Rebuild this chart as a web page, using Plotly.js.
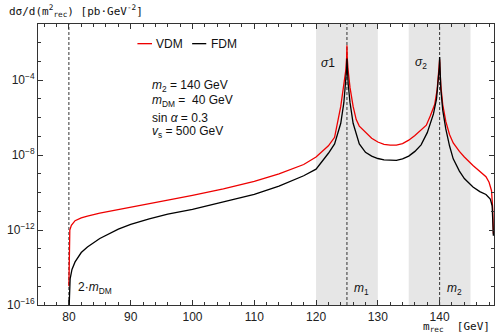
<!DOCTYPE html>
<html>
<head>
<meta charset="utf-8">
<script src="https://cdn.plot.ly/plotly-3.0.1.min.js"></script>
<style>html,body{margin:0;padding:0;background:#fff;}#chart{width:496px;height:335px;}</style>
</head>
<body>
<div id="chart"></div>
<script>
// m_rec values (GeV) and log10 of dσ/d(m²rec) [pb·GeV^-2]
const vdmX = [80.0, 80.02, 80.05, 80.15, 80.4, 81, 82, 83, 85, 90, 96, 100, 105, 110, 114, 118, 120, 122, 123, 124, 124.5, 124.8, 124.95, 125,
  125.05, 125.2, 125.5, 126, 126.5, 127, 128, 129, 130, 131, 132, 133, 134, 135, 136, 137, 137.85, 138.5, 139.2, 139.6, 139.85, 139.95, 140,
  140.05, 140.2, 140.5, 141, 141.6, 142.2, 143.2, 144, 145.4, 146.5, 147.5, 148, 148.4, 148.6, 148.7];
const vdmLog = [-15.0, -13.0, -12.3, -12.0, -11.75, -11.5, -11.35, -11.25, -11.1, -10.8, -10.4, -10.15, -9.8, -9.4, -9.0, -8.5, -8.1, -7.5, -7.05, -5.4, -4.3, -3.5, -2.8, -2.13,
  -2.8, -3.5, -4.4, -5.4, -6.1, -6.45, -6.8, -7.1, -7.3, -7.42, -7.47, -7.47, -7.38, -7.2, -6.95, -6.65, -6.4, -5.9, -5.3, -4.5, -3.6, -3.1, -2.9,
  -3.4, -4.3, -5.3, -6.2, -6.9, -7.35, -7.8, -8.1, -8.55, -8.85, -9.15, -9.45, -9.9, -10.9, -12.2];

const fdmX = [80.0, 80.05, 80.2, 80.5, 81, 82, 83, 85, 88, 90, 93, 96, 100, 105, 110, 114, 118, 120, 122, 123, 124, 124.5, 124.8, 124.95, 125,
  125.05, 125.2, 125.5, 126, 127, 128, 129, 130, 131, 132, 133, 134, 135, 136, 137, 138, 139, 139.5, 139.8, 139.95, 140,
  140.05, 140.2, 140.5, 141, 141.6, 142.2, 143.2, 144, 145.4, 146.5, 147.5, 148.2, 148.5, 148.65, 148.7];
const fdmLog = [-16.5, -15.3, -14.6, -14.1, -13.7, -13.2, -12.9, -12.45, -11.95, -11.7, -11.4, -11.15, -10.9, -10.5, -10.1, -9.65, -9.1, -8.75, -7.9, -7.4, -6.3, -5.2, -4.2, -3.4, -2.84,
  -3.4, -4.2, -5.2, -6.3, -7.4, -7.85, -8.05, -8.18, -8.25, -8.28, -8.28, -8.2, -8.05, -7.8, -7.45, -6.8, -5.8, -5.0, -4.1, -3.3, -2.76,
  -3.5, -4.5, -5.6, -6.6, -7.5, -8.2, -8.85, -9.25, -9.7, -9.95, -10.1, -10.35, -10.7, -11.5, -12.3];

const xTicks = [80, 90, 100, 110, 120, 130, 140];
const yTickVals = [1e-16, 1e-12, 1e-8, 1e-4];
const yTickText = ['10<sup>−16</sup>', '10<sup>−12</sup>', '10<sup>−8</sup>', '10<sup>−4</sup>'];
const yMinorVals = [1e-15,1e-14,1e-13,1e-11,1e-10,1e-9,1e-7,1e-6,1e-5,1e-3,1e-2];
const bands = [[120, 130], [135, 145]];
const markers = [80, 125, 140];

const toVal = a => a.map(v => Math.pow(10, v));

const traces = [
  {x: vdmX, y: toVal(vdmLog), type: 'scatter', mode: 'lines', name: 'VDM', line: {color: '#ee0000', width: 1.3}},
  {x: fdmX, y: toVal(fdmLog), type: 'scatter', mode: 'lines', name: 'FDM', line: {color: '#000000', width: 1.3}}
];

const shapes = [];
bands.forEach(b => shapes.push({type: 'rect', xref: 'x', yref: 'paper', x0: b[0], x1: b[1], y0: 0, y1: 1, fillcolor: '#e6e6e6', line: {width: 0}, layer: 'below'}));
markers.forEach(m => shapes.push({type: 'line', xref: 'x', yref: 'paper', x0: m, x1: m, y0: 0, y1: 1, line: {color: '#333', width: 1, dash: '3px,2px'}, layer: 'below'}));
// legend samples
shapes.push({type: 'line', xref: 'paper', yref: 'paper', x0: 0.218, x1: 0.25, y0: 0.93, y1: 0.93, line: {color: '#ee0000', width: 1.3}});
shapes.push({type: 'line', xref: 'paper', yref: 'paper', x0: 0.338, x1: 0.369, y0: 0.93, y1: 0.93, line: {color: '#000', width: 1.3}});

const txtFont = {family: 'Liberation Sans, Arial, sans-serif', size: 12, color: '#111'};
const monoFont = {family: 'DejaVu Sans Mono, monospace', size: 11, color: '#111'};
const ann = (x, y, text, xanchor, xref, extra) => Object.assign({x, y, xref: xref || 'paper', yref: 'paper', text, showarrow: false, xanchor: xanchor || 'center', yanchor: 'middle', font: txtFont}, extra || {});

const annotations = [
  ann(0.255, 0.93, 'VDM', 'left'),
  ann(0.374, 0.93, 'FDM', 'left'),
  ann(0.246, 0.781, '<i>m</i><sub>2</sub> = 140 GeV', 'left'),
  ann(0.246, 0.726, '<i>m</i><sub>DM</sub> =  40 GeV', 'left'),
  ann(0.246, 0.666, 'sin <i>α</i> = 0.3', 'left'),
  ann(0.246, 0.615, '<i>v</i><sub>s</sub> = 500 GeV', 'left'),
  ann(121.9, 0.86, '<i>σ</i>1', 'center', 'x'),
  ann(137.0, 0.86, '<i>σ</i><sub>2</sub>', 'center', 'x'),
  ann(127.3, 0.058, '<i>m</i><sub>1</sub>', 'center', 'x'),
  ann(142.4, 0.058, '<i>m</i><sub>2</sub>', 'center', 'x'),
  ann(84.2, 0.06, '2·<i>m</i><sub>DM</sub>', 'center', 'x'),
  {x: -0.074, y: 1.0, xref: 'paper', yref: 'paper', yshift: 13, xshift: 3, text: 'dσ/d(m<sup>2</sup><sub>rec</sub>) [pb·GeV<sup>-2</sup>]', showarrow: false, xanchor: 'left', yanchor: 'middle', font: monoFont},
  {x: 1.0, y: 0, xref: 'paper', yref: 'paper', yshift: -22, xshift: -2, text: 'm<sub>rec</sub>  [GeV]', showarrow: false, xanchor: 'right', yanchor: 'middle', font: monoFont}
];

const axisCommon = {showgrid: false, zeroline: false, showline: true, linecolor: '#333', linewidth: 1, ticks: 'inside', tickcolor: '#333', mirror: 'allticks', tickfont: {family: 'Liberation Sans, Arial, sans-serif', size: 12, color: '#222'}};

const layout = {
  width: 496, height: 335,
  margin: {l: 37.5, r: 2, t: 23.5, b: 30},
  paper_bgcolor: '#fff', plot_bgcolor: '#fff',
  showlegend: false,
  xaxis: Object.assign({}, axisCommon, {range: [75, 148.8], tickmode: 'array', tickvals: xTicks, ticklen: 5, ticklabelstandoff: 1,
    minor: {dtick: 2, tick0: 0, ticklen: 3, ticks: 'inside', tickcolor: '#333'}}),
  yaxis: Object.assign({}, axisCommon, {type: 'log', range: [-16, -1], tickmode: 'array', tickvals: yTickVals, ticktext: yTickText, ticklen: 5,
    minor: {tickmode: 'array', tickvals: yMinorVals, ticklen: 3, ticks: 'inside', tickcolor: '#333'}}),
  shapes, annotations
};

Plotly.newPlot('chart', traces, layout, {displayModeBar: false, staticPlot: true});
</script>
</body>
</html>
